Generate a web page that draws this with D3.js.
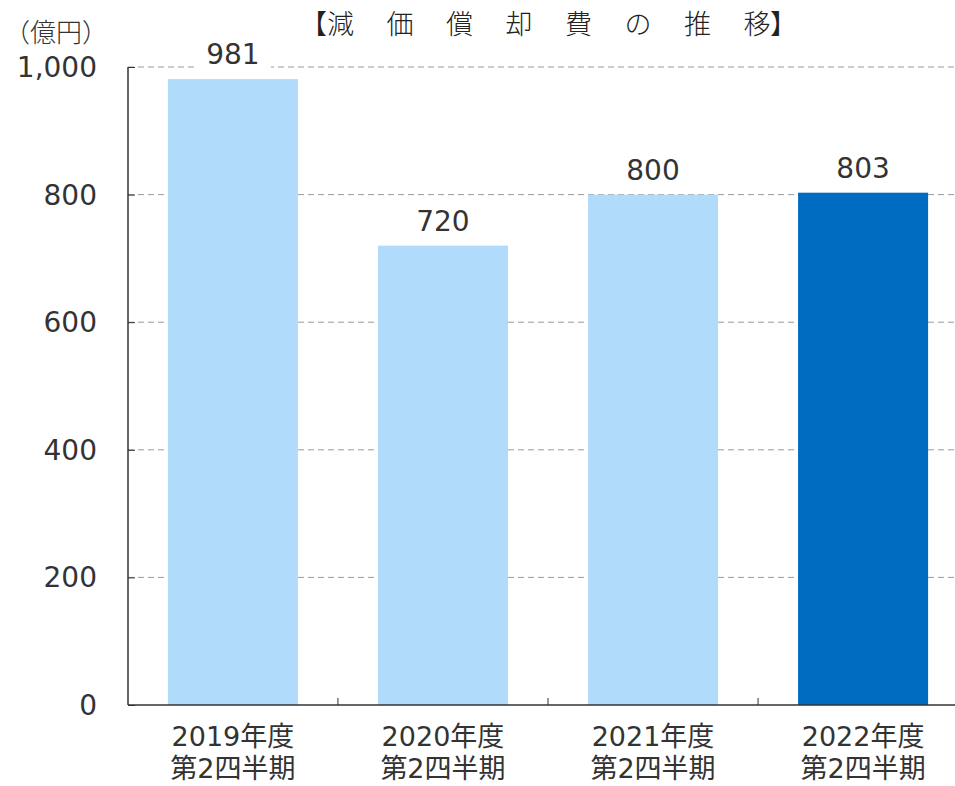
<!DOCTYPE html>
<html><head><meta charset="utf-8">
<script src="https://cdn.jsdelivr.net/npm/d3@7"></script>
<style>body{margin:0;background:#fff}svg{display:block}</style>
</head><body>
<script>
const categories = ["2019年度\n第2四半期","2020年度\n第2四半期","2021年度\n第2四半期","2022年度\n第2四半期"];
const values = [981, 720, 800, 803];
const barColors = ["#b1dbfb","#b1dbfb","#b1dbfb","#006cc1"];
const yTicks = [0,200,400,600,800,1000];
const yTickLabels = ["0","200","400","600","800","1,000"];
const titleChars = ["【","減","価","償","却","費","の","推","移","】"];
const unitLabel = "（億円）";

(function(){
const W=955,H=786;
const font = "'DejaVu Sans','Noto Sans CJK JP',sans-serif";
const svg = d3.select("body").append("svg").attr("width",W).attr("height",H);
const pLeft=128, pBottom=705, pTop=67;
const x = d3.scaleBand().domain(categories).range([pLeft,968]).paddingInner(0.381).paddingOuter(0.19);
const y = d3.scaleLinear().domain([0,1000]).range([pBottom,pTop]);

// gridlines
svg.append("g").selectAll("line").data(yTicks.filter(d=>d>0)).join("line")
  .attr("x1",pLeft).attr("x2",W).attr("y1",d=>y(d)).attr("y2",d=>y(d))
  .attr("stroke","#9a9a9a").attr("stroke-width",1).attr("stroke-dasharray","6,4");

// bars
svg.append("g").selectAll("rect").data(values).join("rect")
  .attr("x",(d,i)=>x(categories[i])).attr("width",x.bandwidth())
  .attr("y",d=>y(d)).attr("height",d=>pBottom-y(d))
  .attr("fill",(d,i)=>barColors[i]);

// y axis
const yAxis = svg.append("g").attr("transform",`translate(${pLeft},0)`)
  .call(d3.axisLeft(y).tickValues(yTicks).tickSize(-7).tickPadding(0).tickFormat(""));
yAxis.select(".domain").attr("stroke","#333").attr("stroke-width",1.5).attr("d",`M0,${pTop}V${pBottom}`);
yAxis.selectAll(".tick line").attr("stroke","#333");
svg.append("g").selectAll("text").data(yTicks).join("text")
  .attr("x",97).attr("y",d=>y(d)+10).attr("text-anchor","end")
  .attr("font-family",font).attr("font-size",28).attr("fill","#333")
  .text((d,i)=>yTickLabels[i]);

// x axis
svg.append("line").attr("x1",pLeft).attr("x2",W).attr("y1",pBottom).attr("y2",pBottom)
  .attr("stroke","#333").attr("stroke-width",1.5);
const step = x.step();
svg.append("g").selectAll("line").data(categories.slice(1)).join("line")
  .attr("x1",d=>x(d)-step*x.paddingInner()/2).attr("x2",d=>x(d)-step*x.paddingInner()/2)
  .attr("y1",pBottom).attr("y2",pBottom-7).attr("stroke","#333");
const catG = svg.append("g").selectAll("text").data(categories).join("text")
  .attr("font-family",font).attr("font-size",27).attr("fill","#333").attr("text-anchor","middle");
catG.each(function(d){
  const t=d3.select(this); const cx=x(d)+x.bandwidth()/2;
  d.split("\n").forEach((s,i)=>t.append("tspan").attr("x",cx).attr("y",746+i*32).text(s));
});

// value labels with white background
const lg = svg.append("g").selectAll("g").data(values).join("g");
lg.append("rect").attr("x",(d,i)=>x(categories[i])+x.bandwidth()/2-38).attr("width",76)
  .attr("y",d=>y(d)-40).attr("height",34).attr("fill","#fff");
lg.append("text").attr("x",(d,i)=>x(categories[i])+x.bandwidth()/2).attr("y",d=>y(d)-15)
  .attr("text-anchor","middle").attr("font-family",font).attr("font-size",28).attr("fill","#333")
  .text(d=>d);

// title
svg.append("g").selectAll("text").data(titleChars).join("text")
  .attr("x",(d,i)=> i===0 ? 300 : (i===titleChars.length-1 ? 770 : 327+(i-1)*59.5))
  .attr("y",34).attr("font-family","'Noto Sans CJK JP',sans-serif").attr("font-weight",300)
  .attr("font-size",27).attr("fill","#222")
  .text(d=>d);

// unit
svg.append("text").attr("x",4).attr("y",42).attr("font-family","'Noto Sans CJK JP',sans-serif")
  .attr("font-weight",300).attr("font-size",26).attr("fill","#333").text(unitLabel);
})();
</script>
</body></html>
